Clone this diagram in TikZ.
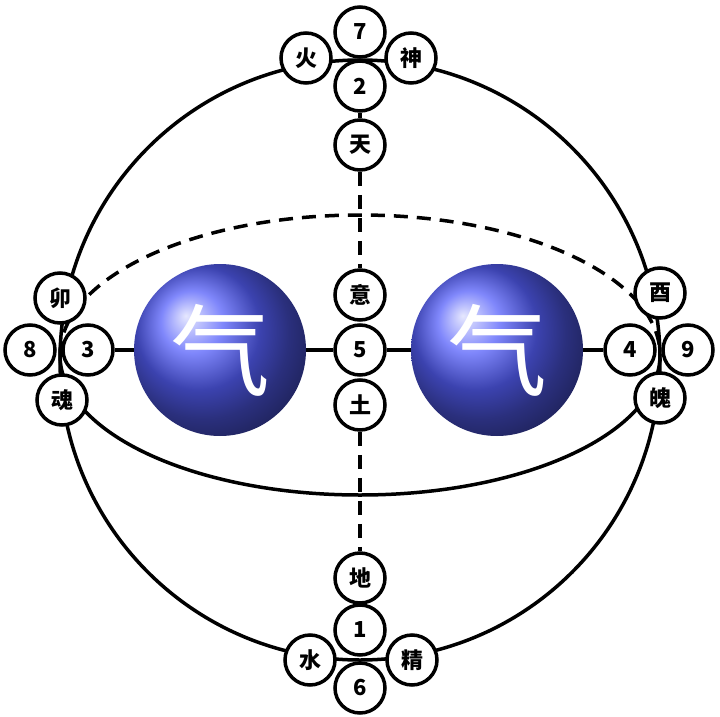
\documentclass[tikz,border=0pt]{standalone}
\usepackage{fontspec}
\setmainfont{Noto Sans CJK SC}
\newfontfamily\cjk{Noto Sans CJK SC}
\begin{document}
\begin{tikzpicture}[x=1pt,y=-1pt,
  sm/.style={circle,draw=black,line width=3.5pt,fill=white,minimum size=50pt,inner sep=0pt,font=\cjk\bfseries\fontsize{22}{22}\selectfont},
  ball/.style={circle,minimum size=172pt,inner sep=0pt,shading=ball,ball color={rgb,255:red,85;green,95;blue,250},text=white,font=\cjk\fontsize{100}{100}\selectfont},
  ln/.style={line width=3.5pt},
  dl/.style={line width=3.5pt,dash pattern=on 14pt off 9pt}]
\useasboundingbox (0,0) rectangle (720,717);
\draw[ln] (360,360) circle (300);
\draw[dl] (60,355) arc[start angle=-180,end angle=0,x radius=300,y radius=140];
\draw[ln] (60,355) arc[start angle=180,end angle=0,x radius=300,y radius=140];
\node[ball] (b1) at (220,350) {气};
\node[ball] (b2) at (497,350) {气};
\node[sm] (n7) at (360,32) {7};
\node[sm] (huo) at (306,58) {火};
\node[sm] (shen) at (411,58) {神};
\node[sm] (n2) at (360,86) {2};
\node[sm] (tian) at (360,145) {天};
\node[sm] (yi) at (360,295) {意};
\node[sm] (n5) at (360,350) {5};
\node[sm] (tu) at (360,405) {土};
\node[sm] (di) at (360,578) {地};
\node[sm] (n1) at (360,630) {1};
\node[sm] (shui) at (310,660) {水};
\node[sm] (jing) at (412,660) {精};
\node[sm] (n6) at (360,688) {6};
\node[sm] (mao) at (60,298) {卯};
\node[sm] (n8) at (30,350) {8};
\node[sm] (n3) at (88,350) {3};
\node[sm] (hun) at (62,400) {魂};
\node[sm] (you) at (660,293) {酉};
\node[sm] (n4) at (630,350) {4};
\node[sm] (n9) at (688,350) {9};
\node[sm] (po) at (660,398) {魄};
\draw[ln] (n3) -- (b1); \draw[ln] (b1) -- (n5); \draw[ln] (n5) -- (b2); \draw[ln] (b2) -- (n4);
\draw[ln] (n2) -- (tian);
\draw[dl] (tian) -- (yi); \draw[dl] (tu) -- (di);
\end{tikzpicture}
\end{document}
